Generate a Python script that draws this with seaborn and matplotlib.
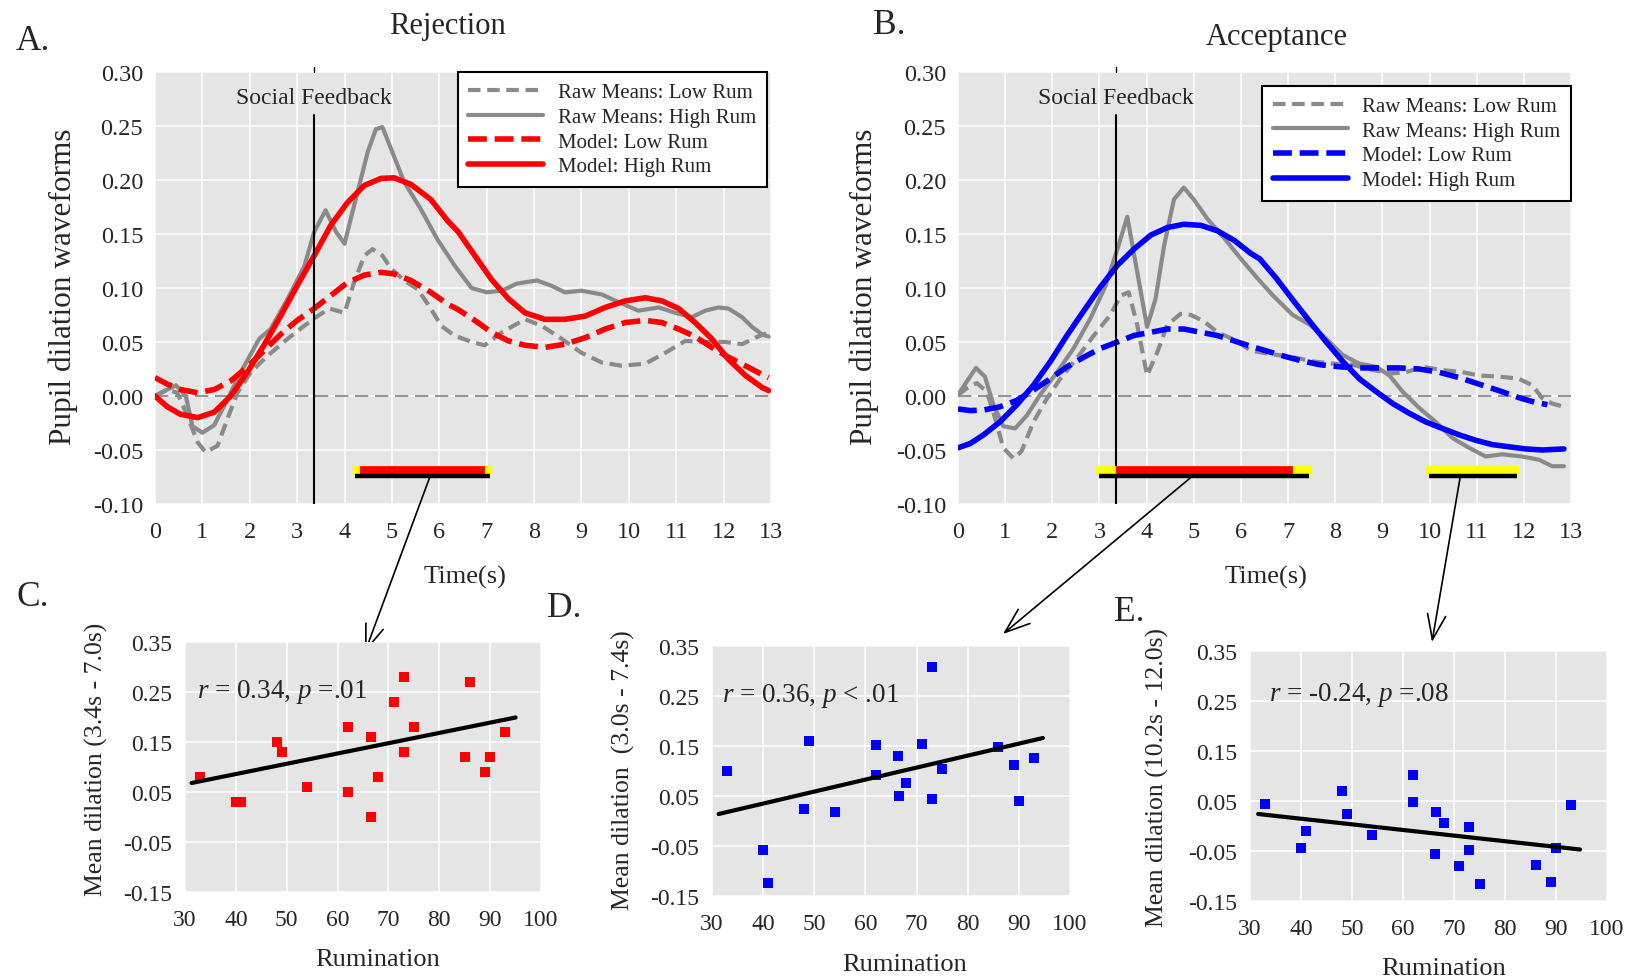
import matplotlib
matplotlib.use("Agg")
import matplotlib.pyplot as plt
import seaborn as sns

# -----------------------
# 1. Data
# -----------------------
# Panel A (Rejection) waveforms
a_raw_low_t = [0, 0.26, 0.47, 0.68, 0.9, 1.07, 1.32, 1.53, 1.74, 2.02, 2.37, 2.8, 3.15, 3.43, 3.68, 4.0, 4.2,
               4.42, 4.59, 4.8, 4.98, 5.26, 5.54, 5.82, 6.04, 6.32, 6.68, 6.96, 7.32, 7.81, 8.16, 8.58, 9.0,
               9.43, 9.85, 10.35, 10.77, 11.19, 11.61, 12.04, 12.39, 12.67, 12.9]
a_raw_low = [0.0, 0.006, 0.003, -0.018, -0.043, -0.052, -0.046, -0.021, 0.003, 0.022, 0.037, 0.053, 0.065,
             0.074, 0.081, 0.077, 0.105, 0.13, 0.136, 0.13, 0.118, 0.107, 0.099, 0.081, 0.065, 0.056, 0.05,
             0.047, 0.059, 0.071, 0.065, 0.053, 0.04, 0.031, 0.028, 0.03, 0.04, 0.051, 0.05, 0.05, 0.048,
             0.054, 0.058]
a_raw_high_t = [0, 0.44, 0.65, 0.79, 1.0, 1.25, 1.53, 1.81, 2.2, 2.44, 2.8, 3.15, 3.36, 3.6, 3.82, 4.0, 4.2,
                4.49, 4.66, 4.8, 4.98, 5.26, 5.61, 5.96, 6.32, 6.68, 7.0, 7.32, 7.63, 8.06, 8.37, 8.65, 9.0,
                9.43, 9.78, 10.2, 10.63, 10.98, 11.33, 11.61, 11.89, 12.1, 12.39, 12.6, 12.81, 12.95]
a_raw_high = [0.0, 0.01, 0.0, -0.028, -0.034, -0.027, -0.003, 0.022, 0.053, 0.062, 0.09, 0.12, 0.152, 0.172,
              0.152, 0.141, 0.176, 0.226, 0.247, 0.249, 0.229, 0.198, 0.173, 0.145, 0.121, 0.10, 0.096,
              0.0975, 0.104, 0.107, 0.102, 0.096, 0.0975, 0.094, 0.087, 0.079, 0.082, 0.077, 0.073, 0.079,
              0.082, 0.081, 0.073, 0.064, 0.057, 0.055]
a_mod_t = [0, 0.26, 0.54, 0.9, 1.25, 1.6, 1.95, 2.3, 2.65, 3.0, 3.36, 3.71, 4.06, 4.42, 4.77, 5.05, 5.4, 5.82,
           6.18, 6.4, 6.75, 7.1, 7.46, 7.81, 8.23, 8.65, 9.08, 9.5, 9.92, 10.35, 10.7, 11.05, 11.4, 11.75,
           12.1, 12.46, 12.81, 12.95]
a_mod_low = [0.017, 0.011, 0.006, 0.003, 0.006, 0.014, 0.027, 0.042, 0.057, 0.07, 0.081, 0.093, 0.105, 0.112,
             0.1145, 0.113, 0.107, 0.096, 0.085, 0.080, 0.07, 0.059, 0.051, 0.047, 0.045, 0.048, 0.054,
             0.062, 0.068, 0.07, 0.068, 0.062, 0.055, 0.045, 0.036, 0.028, 0.02, 0.017]
a_mod_high = [0.0, -0.010, -0.017, -0.020, -0.015, 0.0, 0.022, 0.047, 0.074, 0.102, 0.13, 0.158, 0.179, 0.195,
              0.2015, 0.202, 0.196, 0.182, 0.162, 0.152, 0.13, 0.108, 0.09, 0.077, 0.071, 0.071, 0.074,
              0.082, 0.088, 0.091, 0.088, 0.081, 0.068, 0.053, 0.034, 0.019, 0.008, 0.005]

# Panel B (Acceptance) waveforms
b_raw_low_t = [0, 0.18, 0.4, 0.61, 0.79, 0.96, 1.18, 1.35, 1.6, 1.89, 2.17, 2.52, 2.88, 3.23, 3.45, 3.62,
               3.8, 4.01, 4.23, 4.44, 4.72, 4.94, 5.22, 5.5, 5.86, 6.21, 6.6, 7.1, 7.53, 7.95, 8.37, 8.8,
               9.22, 9.5, 9.85, 10.27, 10.7, 11.05, 11.47, 11.89, 12.18, 12.39, 12.6, 12.85]
b_raw_low = [0.001, 0.007, 0.012, 0.004, -0.021, -0.048, -0.058, -0.051, -0.024, -0.002, 0.016, 0.035, 0.056,
             0.075, 0.093, 0.096, 0.066, 0.019, 0.041, 0.066, 0.076, 0.075, 0.069, 0.059, 0.052, 0.042,
             0.039, 0.036, 0.032, 0.030, 0.029, 0.024, 0.021, 0.022, 0.027, 0.024, 0.022, 0.019, 0.018,
             0.016, 0.010, -0.002, -0.007, -0.01]
b_raw_high_t = [0, 0.18, 0.38, 0.57, 0.75, 0.96, 1.21, 1.46, 1.74, 2.1, 2.45, 2.81, 3.13, 3.38, 3.59, 3.8,
                4.01, 4.19, 4.37, 4.58, 4.79, 5.0, 5.29, 5.65, 6.0, 6.35, 6.68, 7.1, 7.46, 7.81, 8.16, 8.51,
                8.87, 9.15, 9.43, 9.78, 10.13, 10.49, 10.84, 11.19, 11.54, 11.96, 12.32, 12.6, 12.85]
b_raw_high = [0.001, 0.013, 0.026, 0.018, -0.008, -0.028, -0.030, -0.018, 0.001, 0.022, 0.044, 0.072, 0.102,
              0.136, 0.166, 0.115, 0.064, 0.09, 0.139, 0.182, 0.193, 0.182, 0.164, 0.146, 0.127, 0.109,
              0.093, 0.075, 0.066, 0.053, 0.038, 0.030, 0.027, 0.019, 0.004, -0.011, -0.024, -0.039,
              -0.048, -0.056, -0.054, -0.056, -0.059, -0.065, -0.065]
b_mod_low_t = [0, 0.26, 0.54, 0.89, 1.25, 1.6, 1.96, 2.31, 2.67, 3.02, 3.38, 3.73, 4.09, 4.44, 4.79, 5.15,
               5.5, 5.86, 6.21, 6.6, 6.82, 7.25, 7.67, 8.09, 8.51, 8.94, 9.36, 9.78, 10.2, 10.63, 11.05,
               11.47, 11.89, 12.25, 12.5]
b_mod_low = [-0.012, -0.0135, -0.013, -0.010, -0.004, 0.0055, 0.016, 0.027, 0.036, 0.044, 0.05, 0.056, 0.059,
             0.062, 0.062, 0.059, 0.056, 0.051, 0.046, 0.041, 0.038, 0.033, 0.029, 0.027, 0.026, 0.026,
             0.026, 0.025, 0.022, 0.017, 0.011, 0.005, -0.0015, -0.006, -0.008]
b_mod_high_t = [0, 0.26, 0.54, 0.89, 1.25, 1.6, 1.96, 2.31, 2.67, 3.02, 3.38, 3.73, 4.09, 4.44, 4.79, 5.15,
                5.5, 5.86, 6.21, 6.4, 6.75, 7.1, 7.46, 7.81, 8.16, 8.51, 8.87, 9.22, 9.57, 9.92, 10.27,
                10.63, 10.98, 11.33, 11.68, 12.04, 12.39, 12.85]
b_mod_high = [-0.048, -0.044, -0.036, -0.024, -0.008, 0.010, 0.032, 0.056, 0.079, 0.101, 0.121, 0.136,
              0.149, 0.156, 0.159, 0.158, 0.153, 0.144, 0.132, 0.127, 0.109, 0.089, 0.069, 0.05, 0.032,
              0.016, 0.004, -0.007, -0.016, -0.024, -0.03, -0.036, -0.041, -0.045, -0.047, -0.049, -0.05,
              -0.049]

# significance windows (seconds): yellow, red, black
a_yellow = [(4.17, 7.12)]
a_red = [(4.33, 6.96)]
a_black = [(4.22, 7.07)]
b_yellow = [(2.92, 7.5), (9.93, 11.9)]
b_red = [(3.35, 7.1)]
b_black = [(2.98, 7.45), (9.98, 11.85)]
feedback_time = 3.35

# Panel C/D/E scatter (rumination vs mean dilation)
c_rum = [33, 40, 41, 48, 49, 54, 62, 62, 66.5, 66.6, 68, 71, 73, 73, 75, 85, 86, 89, 90, 93]
c_dil = [0.081, 0.031, 0.031, 0.151, 0.131, 0.061, 0.181, 0.051, 0.161, 0.001, 0.081, 0.231, 0.28, 0.131,
         0.181, 0.121, 0.27, 0.091, 0.121, 0.171]
d_rum = [33, 40, 41, 48, 49, 54, 62, 62, 66.3, 66.5, 68, 71, 73, 73, 75, 86, 89, 90, 93]
d_dil = [0.10, -0.057, -0.123, 0.025, 0.16, 0.018, 0.153, 0.093, 0.13, 0.051, 0.077, 0.155, 0.309, 0.045,
         0.105, 0.148, 0.112, 0.041, 0.127]
e_rum = [33, 40, 41, 48, 49, 54, 62, 62, 66.5, 66.3, 68, 71, 73, 73, 75, 86, 89, 90, 93]
e_dil = [0.045, -0.044, -0.01, 0.07, 0.025, -0.018, 0.102, 0.049, 0.028, -0.056, 0.007, -0.08, -0.002,
         -0.048, -0.115, -0.078, -0.111, -0.044, 0.043]
# fitted regression lines (end points)
c_fit_x, c_fit_y = [31.3, 95.0], [0.068, 0.199]
d_fit_x, d_fit_y = [31.3, 94.7], [0.014, 0.166]
e_fit_x, e_fit_y = [31.6, 94.7], [0.024, -0.047]

GREY = "#8A8A8A"
RED = "#FF0000"
BLUE = "#0000FF"
YELLOW = "#FFFF00"

# -----------------------
# 2. Style
# -----------------------
sns.set_theme(style="darkgrid", rc={"axes.facecolor": "#E5E5E5", "grid.color": "white",
                                    "grid.linewidth": 1.1})
plt.rcParams["font.family"] = ["Liberation Serif", "DejaVu Serif"]
plt.rcParams["mathtext.fontset"] = "custom"
plt.rcParams["mathtext.rm"] = "Liberation Serif"
plt.rcParams["mathtext.it"] = "Liberation Serif:italic"
plt.rcParams["axes.unicode_minus"] = False

W, H = 1637, 978
fig = plt.figure(figsize=(W / 100, H / 100), dpi=100)


def px_axes(left, top, right, bottom):
    return fig.add_axes([left / W, 1 - bottom / H, (right - left) / W, (bottom - top) / H])


def clean(ax):
    for s in ax.spines.values():
        s.set_visible(False)
    ax.tick_params(length=0)


# -----------------------
# 3. Waveform panels
# -----------------------
def wave_panel(ax, curves, model_color, yellow, red, black, leg_anchor):
    raw_lo, raw_hi, mod_lo, mod_hi = curves
    sns.lineplot(x=raw_lo[0], y=raw_lo[1], ax=ax, color=GREY, linewidth=3, label="Raw Means: Low Rum")
    ax.lines[-1].set_dashes([3.0, 1.6])
    sns.lineplot(x=raw_hi[0], y=raw_hi[1], ax=ax, color=GREY, linewidth=3, label="Raw Means: High Rum")
    sns.lineplot(x=mod_lo[0], y=mod_lo[1], ax=ax, color=model_color, linewidth=4, label="Model: Low Rum")
    ax.lines[-1].set_dashes([3.4, 1.4])
    sns.lineplot(x=mod_hi[0], y=mod_hi[1], ax=ax, color=model_color, linewidth=4, label="Model: High Rum")

    ax.axhline(0, color="#808080", lw=1.2, dashes=(8, 4), zorder=1)
    ax.axvline(feedback_time, ymin=0, ymax=0.90, color="black", lw=1.5)
    ax.plot([feedback_time, feedback_time], [0.30, 0.305], color="black", lw=1, clip_on=False)
    ax.text(feedback_time, 0.276, "Social Feedback", ha="center", va="center", fontsize=17)

    for x0, x1 in yellow:
        ax.hlines(-0.069, x0, x1, color=YELLOW, lw=7, zorder=4)
    for x0, x1 in red:
        ax.hlines(-0.069, x0, x1, color=RED, lw=7, zorder=5)
    for x0, x1 in black:
        ax.hlines(-0.0745, x0, x1, color="black", lw=3.2, zorder=6)

    ax.set_xlim(0, 13)
    ax.set_ylim(-0.10, 0.30)
    ax.set_xticks(range(0, 14))
    ax.set_yticks([-0.10, -0.05, 0, 0.05, 0.10, 0.15, 0.20, 0.25, 0.30])
    ax.set_yticklabels([f"{v:.2f}" for v in ax.get_yticks()])
    ax.tick_params(labelsize=17.5)
    ax.tick_params(axis="x", pad=12)
    ax.tick_params(axis="y", pad=8.5)
    ax.set_xlabel("Time(s)", fontsize=19)
    ax.set_ylabel("Pupil dilation waveforms", fontsize=22.5, va="center")
    clean(ax)
    leg = ax.legend(loc="upper right", bbox_to_anchor=leg_anchor, borderaxespad=0, fontsize=15,
                    frameon=True, fancybox=False, edgecolor="black", framealpha=1, facecolor="white",
                    handlelength=3.6, labelspacing=0.25, borderpad=0.5, handletextpad=0.7)
    leg.get_frame().set_linewidth(1.5)


ax_a = px_axes(155, 73, 771, 505)
wave_panel(ax_a, [(a_raw_low_t, a_raw_low), (a_raw_high_t, a_raw_high), (a_mod_t, a_mod_low),
                  (a_mod_t, a_mod_high)], RED, a_yellow, a_red, a_black, (0.993, 1.0))
ax_a.yaxis.set_label_coords(-0.149, 0.505)
ax_a.xaxis.set_label_coords(0.503, -0.14)
ax_a.set_title("Rejection", fontsize=22, x=0.474, y=1.07)

ax_b = px_axes(958, 73, 1571, 505)
wave_panel(ax_b, [(b_raw_low_t, b_raw_low), (b_raw_high_t, b_raw_high), (b_mod_low_t, b_mod_low),
                  (b_mod_high_t, b_mod_high)], BLUE, b_yellow, b_red, b_black, (1.0, 0.968))
ax_b.yaxis.set_label_coords(-0.153, 0.505)
ax_b.xaxis.set_label_coords(0.502, -0.14)
ax_b.set_title("Acceptance", fontsize=22, x=0.52, y=1.045)


# -----------------------
# 4. Scatter panels
# -----------------------
def scatter_panel(ax, x, y, fx, fy, color, ylabel, stat, stat_xy):
    sns.scatterplot(x=x, y=y, ax=ax, marker="s", s=60, color=color, linewidth=0, zorder=3)
    sns.lineplot(x=fx, y=fy, ax=ax, color="black", linewidth=3, zorder=4)
    ax.set_xlim(30, 100)
    ax.set_ylim(-0.15, 0.35)
    ax.set_xticks(range(30, 101, 10))
    yt = [-0.15, -0.05, 0.05, 0.15, 0.25, 0.35]
    ax.set_yticks(yt)
    ax.set_yticklabels([f"{v:.2f}" for v in yt])
    ax.tick_params(labelsize=17)
    ax.tick_params(axis="x", pad=12)
    ax.tick_params(axis="y", pad=9.5)
    ax.set_xlabel("Rumination", fontsize=19)
    ax.set_ylabel(ylabel, fontsize=18.5, va="center")
    ax.text(stat_xy[0], stat_xy[1], stat, fontsize=19.5, ha="left", va="center")
    clean(ax)


ax_c = px_axes(185, 643, 541, 893)
scatter_panel(ax_c, c_rum, c_dil, c_fit_x, c_fit_y, RED, "Mean dilation (3.4s - 7.0s)",
              r"$r$ = 0.34, $p$ =.01", (32.3, 0.253))
ax_c.yaxis.set_label_coords(-0.25, 0.536)
ax_c.xaxis.set_label_coords(0.542, -0.225)

ax_d = px_axes(712, 647, 1070, 897)
scatter_panel(ax_d, d_rum, d_dil, d_fit_x, d_fit_y, BLUE, "Mean dilation  (3.0s - 7.4s)",
              r"$r$ = 0.36, $p$ < .01", (31.95, 0.253))
ax_d.yaxis.set_label_coords(-0.246, 0.508)
ax_d.xaxis.set_label_coords(0.539, -0.229)

ax_e = px_axes(1250, 652, 1607, 902)
scatter_panel(ax_e, e_rum, e_dil, e_fit_x, e_fit_y, BLUE, "Mean dilation (10.2s - 12.0s)",
              r"$r$ = -0.24, $p$ =.08", (33.8, 0.264))
ax_e.yaxis.set_label_coords(-0.26, 0.496)
ax_e.xaxis.set_label_coords(0.543, -0.224)

# -----------------------
# 5. Arrows and panel letters
# -----------------------
arrow = dict(arrowstyle="->,head_length=1.5,head_width=0.55", color="black", lw=1.2,
             shrinkA=0, shrinkB=0)
ax_a.annotate("", xy=(365, H - 653), xycoords="figure pixels", xytext=(5.8, -0.075),
              textcoords="data", arrowprops=arrow, annotation_clip=False)
ax_b.annotate("", xy=(1003, H - 635), xycoords="figure pixels", xytext=(4.95, -0.075),
              textcoords="data", arrowprops=arrow, annotation_clip=False)
ax_b.annotate("", xy=(1432, H - 643), xycoords="figure pixels", xytext=(10.65, -0.075),
              textcoords="data", arrowprops=arrow, annotation_clip=False)

for letter, lx, ly in [("A.", 16, 42), ("B.", 873, 26), ("C.", 16, 598), ("D.", 547, 609), ("E.", 1114, 613)]:
    fig.text(lx / W, 1 - ly / H, letter, fontsize=25.5, ha="left", va="center")

plt.savefig("out.png", dpi=100)
plt.close()
